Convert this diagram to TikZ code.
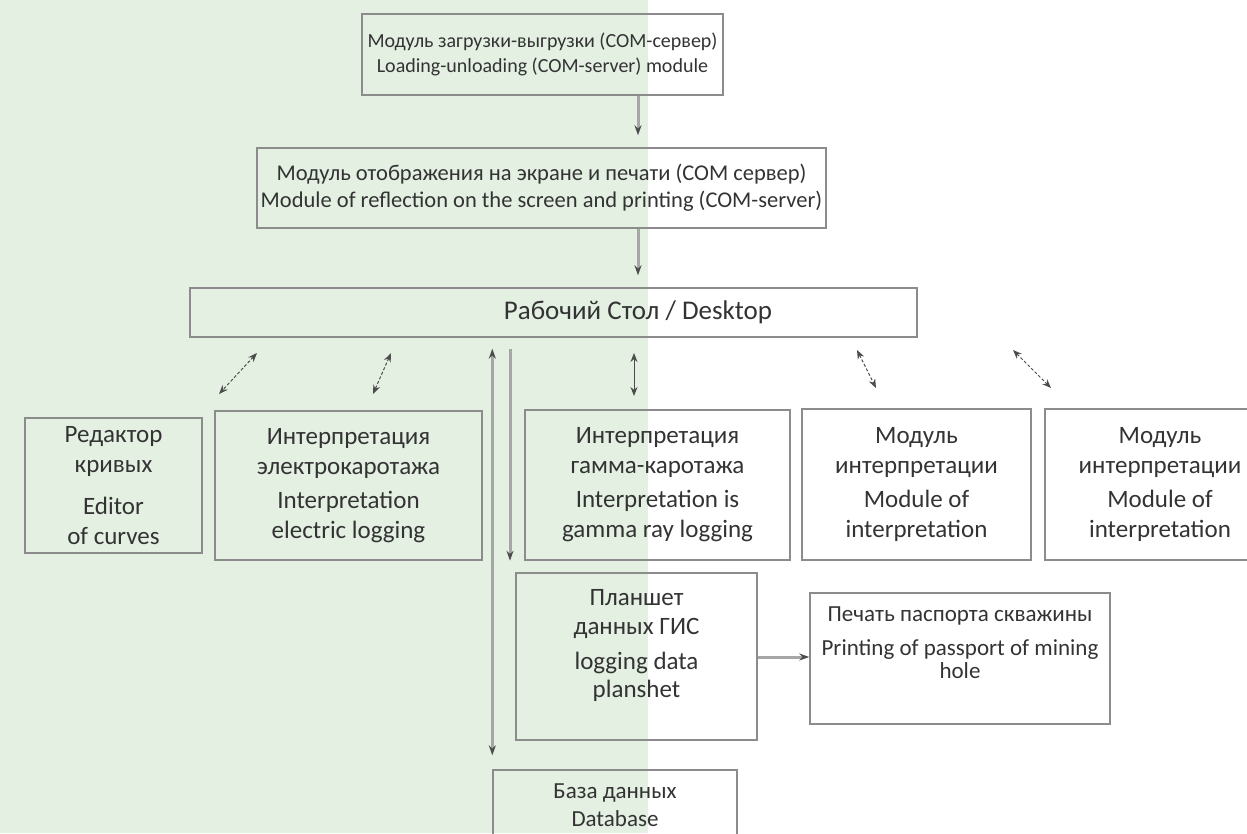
\documentclass[tikz,border=0pt]{standalone}
\usepackage{fontspec}
\setmainfont{Carlito}
\usetikzlibrary{arrows.meta,positioning,calc}
\definecolor{leftgreen}{RGB}{227,240,226}
\tikzset{
  mbox/.style   ={draw=black!45, line width=1.4pt, align=center, inner sep=0pt, text=black!80},
  topbox/.style ={mbox, font=\fontsize{20}{25}\selectfont},
  midbox/.style ={mbox, font=\fontsize{22.5}{27}\selectfont},
  rowbox/.style ={mbox, font=\fontsize{25}{30}\selectfont},
  lowbox/.style ={mbox, font=\fontsize{23}{29}\selectfont},
  lbl/.style    ={inner sep=0pt, text=black!80, font=\fontsize{27}{30}\selectfont},
  var/.style    ={-{Stealth[length=10pt,width=7pt,color=black!70]}, draw=black!35, line width=3pt},
  vvar/.style   ={{Stealth[length=10pt,width=7pt,color=black!70]}-{Stealth[length=10pt,width=7pt,color=black!70]},
                  draw=black!35, line width=2.6pt},
  dar/.style    ={{Stealth[length=9pt,width=7pt]}-{Stealth[length=9pt,width=7pt]}, draw=black!70,
                  densely dashed, line width=1pt},
  sar/.style    ={{Stealth[length=9pt,width=7pt]}-{Stealth[length=9pt,width=7pt]}, draw=black!70, line width=1pt},
}

\begin{document}
\begin{tikzpicture}[x=1pt,y=-1pt]
\useasboundingbox (0,0) rectangle (1247,833);
\fill[leftgreen] (0,0) rectangle (648,833);

% ---- servers ----
\node[topbox, minimum width=361pt, minimum height=81pt] (load) at (542.5,54.5)
  {Модуль загрузки-выгрузки (COM-сервер)\\Loading-unloading (COM-server) module};
\node[midbox, minimum width=569pt, minimum height=80pt] (disp) at (541.5,188)
  {Модуль отображения на экране и печати (COM сервер)\\Module of reflection on the screen and printing (COM-server)};
\node[mbox, minimum width=727pt, minimum height=49pt] (desk) at (553.5,312.5) {};
\node[lbl] (desktxt) at (638,312.5) {Рабочий Стол / Desktop};

\draw[var] (load.south -| 638,0) -- ([yshift=12pt]disp.north -| 638,0);
\draw[var] (disp.south -| 638,0) -- ([yshift=12pt]desk.north -| 638,0);

% ---- modules ----
\node[rowbox, minimum width=177pt, minimum height=135pt] (edit) at (113.5,485.5)
  {Редактор\\кривых\\[12pt]Editor\\of curves};
\node[rowbox, minimum width=267pt, minimum height=149pt] (elec) at (348.5,485.5)
  {Интерпретация\\электрокаротажа\\[4pt]Interpretation\\electric logging};
\node[rowbox, minimum width=265pt, minimum height=150pt] (gamma) at (657.5,485)
  {Интерпретация\\гамма-каротажа\\[4pt]Interpretation is\\gamma ray logging};
\node[rowbox, minimum width=229pt, minimum height=151pt] (modA) at (916.5,484.5)
  {Модуль\\интерпретации\\[4pt]Module of\\interpretation};
\node[rowbox, minimum width=230pt, minimum height=151pt] (modB) at (1160,484.5)
  {Модуль\\интерпретации\\[4pt]Module of\\interpretation};

\coordinate (e1) at (257,353);  \coordinate (e2) at (219,394);
\coordinate (l1) at (391,353);  \coordinate (l2) at (373,394);
\coordinate (g1) at (634,353);  \coordinate (g2) at (634,396);
\coordinate (m1) at (857,350);  \coordinate (m2) at (876,388);
\coordinate (n1) at (1013,350); \coordinate (n2) at (1051,388);
\draw[dar] (e1) -- (e2);
\draw[dar] (l1) -- (l2);
\draw[sar] (g1) -- (g2);
\draw[dar] (m1) -- (m2);
\draw[dar] (n1) -- (n2);

% ---- tablet, print, database ----
\node[rowbox, minimum width=241pt, minimum height=167pt] (plan) at (636.5,656.5)
  {Планшет\\[-1pt]данных ГИС\\[5pt]logging data\\[-2pt]planshet\\[-12pt]\strut};
\node[lowbox, minimum width=300pt, minimum height=131pt] (print) at (960,658.5)
  {Печать паспорта скважины\\[5pt]Printing of passport of mining\\[-6pt]hole\\[-5pt]\strut};
\node[lowbox, minimum width=244pt, minimum height=70pt] (db) at (615,805)
  {База данных\\[-1pt]Database};

\draw[var] (plan.east |- 0,657) -- (print.west |- 0,657);
\draw[vvar] ([yshift=-11pt]desk.south -| db.west) -- ([yshift=14pt]db.north west);
\draw[var] ([yshift=-11pt]desk.south -| 510,0) -- (gamma.south -| 510,0);

\end{tikzpicture}
\end{document}
